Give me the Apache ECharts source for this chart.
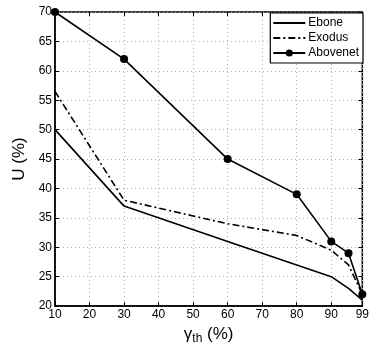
<!DOCTYPE html>
<html>
<head>
<meta charset="utf-8">
<script src="https://cdn.jsdelivr.net/npm/echarts@6/dist/echarts.min.js"></script>
<style>
  html, body { margin: 0; padding: 0; background: #fff; }
  #chart { width: 372px; height: 350px; }
</style>
</head>
<body>
<div id="chart"></div>
<script>
// gamma_th (%) values where the curves are sampled
var gammaTh = [10, 30, 60, 80, 90, 95, 99];
var ebone = [50, 37, 31, 27, 25, 23, 21];
var exodus = [56.5, 38, 34, 32, 29.5, 27, 22];
var abovenet = [70, 62, 45, 39, 31, 29, 22];
var xTicks = [10, 20, 30, 40, 50, 60, 70, 80, 90, 99];

function pairs(ys) {
    return gammaTh.map(function (x, i) { return [x, ys[i]]; });
}

var myChart = echarts.init(document.getElementById('chart'));
var font = 'Liberation Sans, Arial, sans-serif';
var gridLine = { show: true, lineStyle: { color: '#b0b0b0', type: [1, 3], width: 1 } };
var noMarker = { color: 'rgba(0,0,0,0)', borderColor: 'rgba(0,0,0,0)', borderWidth: 0 };

var option = {
    animation: false,
    textStyle: { fontFamily: font },
    grid: { left: 55, right: 5.5, top: 12, bottom: 38, show: true, borderColor: '#000', borderWidth: 1.5 },
    legend: {
        right: 9,
        top: 13,
        orient: 'vertical',
        itemWidth: 32,
        itemHeight: 9,
        itemGap: 3,
        padding: [4, 4, 4, 2],
        backgroundColor: '#fff',
        borderColor: '#000',
        borderWidth: 1.2,
        textStyle: { color: '#000', fontSize: 12, fontFamily: font, padding: [0, 0, 0, -2] },
        data: [
            { name: 'Ebone', itemStyle: noMarker },
            { name: 'Exodus', itemStyle: noMarker },
            { name: 'Abovenet' }
        ]
    },
    xAxis: [{
        type: 'value',
        min: 10,
        max: 99,
        interval: 10,
        name: '{g|γ}{s|th} (%)',
        nameLocation: 'middle',
        nameGap: 12,
        nameTextStyle: {
            verticalAlign: 'top',
            color: '#000',
            fontSize: 17,
            rich: {
                g: { fontSize: 17, fontFamily: font },
                s: { fontSize: 12, fontFamily: font, verticalAlign: 'bottom', padding: [9, 0, 0, 0] }
            }
        },
        axisLine: { lineStyle: { color: '#000', width: 1.5 } },
        axisTick: { inside: true, length: 4, lineStyle: { color: '#000' } },
        axisLabel: {
            color: '#000', fontSize: 12, margin: 3,
            customValues: xTicks,
            formatter: function (v) { return v; }
        },
        splitLine: gridLine
    }, {
        type: 'value', position: 'top', min: 10, max: 99, interval: 10,
        axisLine: { show: false },
        axisTick: { inside: true, length: 4, lineStyle: { color: '#000' } },
        axisLabel: { show: false },
        splitLine: { show: false }
    }],
    yAxis: [{
        type: 'value',
        min: 20,
        max: 70,
        interval: 5,
        name: 'U (%)',
        nameLocation: 'middle',
        nameGap: 22,
        nameTextStyle: { color: '#000', fontSize: 17 },
        axisLine: { lineStyle: { color: '#000', width: 1.5 } },
        axisTick: { inside: true, length: 4, lineStyle: { color: '#000' } },
        axisLabel: { color: '#000', fontSize: 12, margin: 3 },
        splitLine: gridLine
    }, {
        type: 'value', position: 'right', min: 20, max: 70, interval: 5,
        axisLine: { show: false },
        axisTick: { inside: true, length: 4, lineStyle: { color: '#000' } },
        axisLabel: { show: false },
        splitLine: { show: false }
    }],
    series: [{
        name: 'Ebone',
        type: 'line',
        symbol: 'none',
        lineStyle: { color: '#000', width: 1.6 },
        itemStyle: { color: '#000' },
        data: pairs(ebone)
    }, {
        name: 'Exodus',
        type: 'line',
        symbol: 'none',
        lineStyle: { color: '#000', width: 1.6, type: [7, 3, 2, 3] },
        itemStyle: { color: '#000' },
        data: pairs(exodus)
    }, {
        name: 'Abovenet',
        type: 'line',
        symbol: 'circle',
        symbolSize: 8,
        lineStyle: { color: '#000', width: 1.6 },
        itemStyle: { color: '#000' },
        data: pairs(abovenet)
    }]
};

myChart.setOption(option);
window.addEventListener('resize', function () {
    myChart.resize();
});
</script>
</body>
</html>
